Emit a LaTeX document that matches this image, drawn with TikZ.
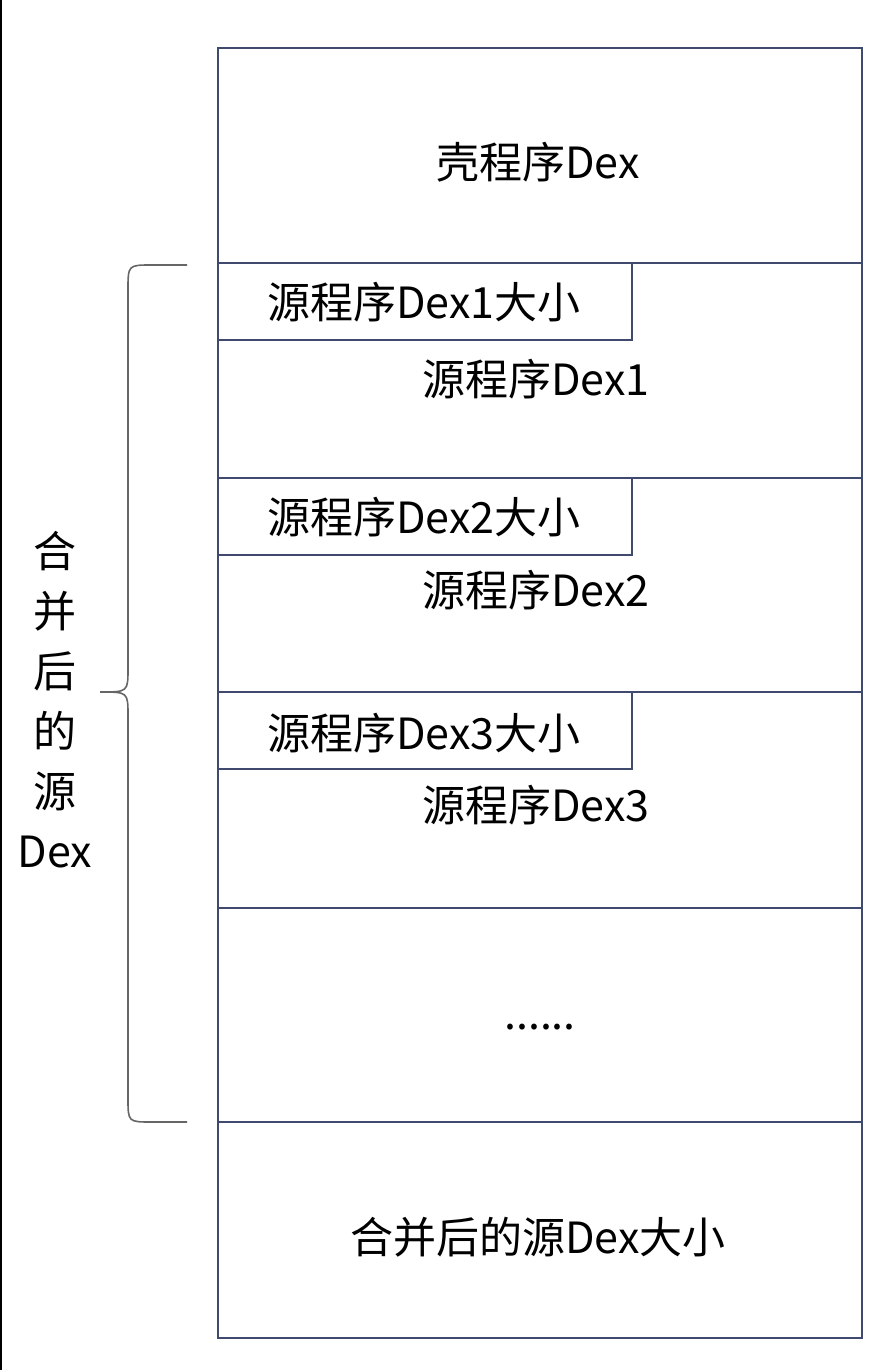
\documentclass[tikz,border=0pt]{standalone}
\usepackage{fontspec}
\setmainfont{Noto Sans CJK SC}
\usetikzlibrary{positioning}
\definecolor{boxline}{HTML}{404A6E}
\begin{document}
\begin{tikzpicture}[
  x=0.5pt, y=-0.5pt,
  cell/.style={draw=boxline, line width=0.9pt},
  lbl/.style={font=\fontsize{21.5}{26}\selectfont, inner sep=0pt},
  side/.style={lbl, align=center}
]
  \useasboundingbox (0,0) rectangle (895,1370);
  \draw[line width=1pt] (1,0) -- (1,1370);

  % Column
  \draw[cell] (218,48) rectangle (862,1338);
  \foreach \y in {263,478,692,908,1122}
    \draw[cell] (218,\y) -- (862,\y);

  % Size boxes
  \foreach \y/\n in {263/1,478/2,692/3}
    \draw[cell] (218,\y) rectangle (632,\y+77);

  \node[lbl] (shell) at (538,162) {壳程序Dex};
  \node[lbl] (size1) at (424,302) {源程序Dex1大小};
  \node[lbl] (dex1)  at (536,379) {源程序Dex1};
  \node[lbl] (size2) at (424,517) {源程序Dex2大小};
  \node[lbl] (dex2)  at (536,590) {源程序Dex2};
  \node[lbl] (size3) at (424,733) {源程序Dex3大小};
  \node[lbl] (dex3)  at (536,805) {源程序Dex3};
  \node[lbl] (more)  at (540,1027) {......};
  \node[lbl] (total) at (538,1237) {合并后的源Dex大小};

  % Brace
  \draw[gray!80!black, line width=0.8pt]
    (187,265) -- (152,265) .. controls (128,265) .. (128,290) -- (128,668)
    .. controls (128,692) .. (100,692) .. controls (128,692) .. (128,716)
    -- (128,1098) .. controls (128,1122) .. (152,1122) -- (187,1122);
  \node[side] (merged) at (55,700) {合\\[4pt]并\\[4pt]后\\[4pt]的\\[4pt]源\\[4pt]Dex};
\end{tikzpicture}
\end{document}
